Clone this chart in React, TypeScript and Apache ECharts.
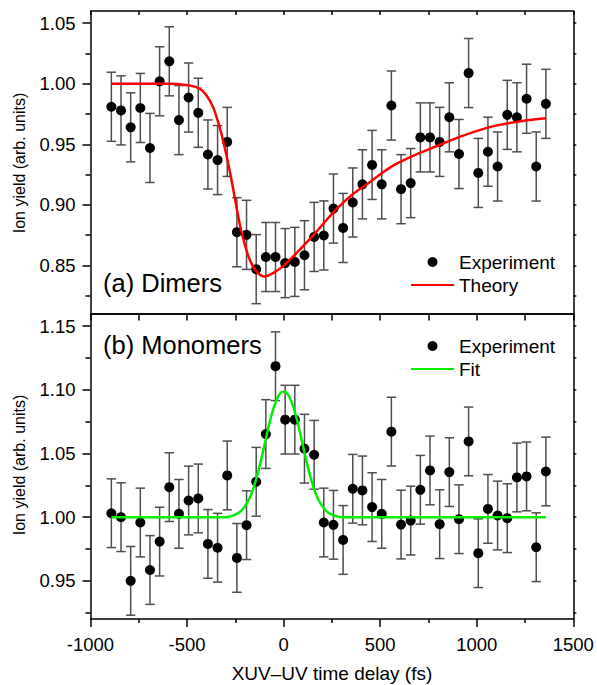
import React, { useEffect, useRef } from "react";
import * as echarts from "echarts";

// ---- data ----
const delays = [
  -892, -842, -792, -742, -692, -642, -592, -542, -492, -442, -392, -342, -292, -242, -192, -142,
  -92, -42, 8, 58, 108, 158, 208, 258, 308, 358, 408, 458, 508, 558, 608, 658, 708, 758, 808, 858,
  908, 958, 1008, 1058, 1108, 1158, 1208, 1258, 1308, 1358,
];

const dimerYield = [
  0.981, 0.978, 0.964, 0.98, 0.947, 1.002, 1.0185, 0.97, 0.9886, 0.976,
  0.9416, 0.937, 0.952, 0.8775, 0.8753, 0.847, 0.857, 0.857, 0.852, 0.853,
  0.8585, 0.8736, 0.8748, 0.897, 0.881, 0.902, 0.917, 0.933, 0.917, 0.982,
  0.913, 0.918, 0.9557, 0.9557, 0.952, 0.9723, 0.942, 1.0088, 0.9264, 0.9439,
  0.9317, 0.9743, 0.9723, 0.9876, 0.9317, 0.9834,
];
const dimerErr = 0.0285;

const monomerYield = [
  1.0031, 1.0, 0.95, 0.9958, 0.9585, 0.9808, 1.0236, 1.0026, 1.0131, 1.0147,
  0.979, 0.976, 1.0328, 0.968, 0.9937, 1.0278, 1.0653, 1.1186, 1.0766, 1.0766,
  1.0538, 1.049, 0.9958, 0.994, 0.9821, 1.0223, 1.021, 1.0079, 1.0026, 1.0672,
  0.9942, 0.9973, 1.0215, 1.0367, 0.9945, 1.0354, 0.9984, 1.0595, 0.9717, 1.0065,
  1.0013, 0.9992, 1.0312, 1.032, 0.9764, 1.0359,
];
const monomerErr = 0.027;

const theoryX = [
  -892, -589, -486, -434, -399, -365, -331, -305, -279, -253, -227, -201, -176, -141, -98, -55,
  -4, 65, 134, 203, 272, 358, 444, 513, 581, 670, 754, 926, 1099, 1271, 1358,
];
const theoryY = [
  1.0, 1.0, 0.9986, 0.9959, 0.9903, 0.9806, 0.964, 0.9474, 0.928, 0.906, 0.884, 0.8673, 0.855,
  0.8452, 0.841, 0.8438, 0.8493, 0.86, 0.8715, 0.884, 0.8963, 0.9088, 0.9185, 0.9267, 0.9336,
  0.9405, 0.946, 0.957, 0.9654, 0.97, 0.9715,
];

const fitX = [
  -892, -300, -250, -220, -190, -165, -140, -115, -90, -65, -40, -20, 0, 20, 40, 65, 90, 115,
  140, 165, 190, 220, 250, 300, 1358,
];
const fitY = [
  1.0, 1.0, 1.002, 1.005, 1.011, 1.019, 1.031, 1.046, 1.063, 1.079, 1.091, 1.097, 1.0985, 1.097,
  1.091, 1.079, 1.063, 1.046, 1.031, 1.019, 1.011, 1.005, 1.002, 1.0, 1.0,
];

const xTicks = [-1000, -500, 0, 500, 1000, 1500];
const xMinorTicks = [-750, -250, 250, 750, 1250];
const xAllTicks = [-1000, -750, -500, -250, 0, 250, 500, 750, 1000, 1250, 1500];
const yTicksTop = [0.85, 0.9, 0.95, 1.0, 1.05];
const yMinorTop = [0.825, 0.875, 0.925, 0.975, 1.025];
const yTicksBottom = [0.95, 1.0, 1.05, 1.1, 1.15];
const yMinorBottom = [0.925, 0.975, 1.025, 1.075, 1.125];

const xRange = [-1000, 1500];
const yRangeTop = [0.81, 1.06];
const yRangeBottom = [0.92, 1.16];

const FONT = "'Liberation Sans', Arial, sans-serif";

export default function App() {
  const ref = useRef<HTMLDivElement>(null);

  useEffect(() => {
    if (!ref.current) return;
    const chart = echarts.init(ref.current, undefined, { renderer: "svg" });

    const axisLine = { show: true, onZero: false, lineStyle: { color: "#000", width: 1.5 } };
    const noLine = { show: false, onZero: false };
    const tickStyle = { color: "#000", width: 1.5 };

    const errData = (vals: number[], err: number) =>
      delays.map((d, i) => [d, vals[i] - err, vals[i] + err]);

    const errRender = (params: any, api: any) => {
      const x = api.value(0);
      const a = api.coord([x, api.value(2)]);
      const b = api.coord([x, api.value(1)]);
      const w = 4.7;
      const style = { stroke: "#4d4d4d", lineWidth: 1.5 };
      return {
        type: "group",
        children: [
          { type: "line", shape: { x1: a[0], y1: a[1], x2: b[0], y2: b[1] }, style },
          { type: "line", shape: { x1: a[0] - w, y1: a[1], x2: a[0] + w, y2: a[1] }, style },
          { type: "line", shape: { x1: b[0] - w, y1: b[1], x2: b[0] + w, y2: b[1] }, style },
        ],
      };
    };

    const xBase = { type: "value", min: xRange[0], max: xRange[1], splitLine: { show: false } };

    const makeY = (grid: number, range: number[], major: number[], minor: number[]) => [
      {
        type: "value",
        gridIndex: grid,
        position: "left",
        min: range[0],
        max: range[1],
        splitLine: { show: false },
        axisLine,
        axisTick: { show: true, length: 8, lineStyle: tickStyle, customValues: major },
        axisLabel: {
          show: true,
          customValues: major,
          margin: 15,
          fontSize: 18.5,
          fontFamily: FONT,
          color: "#000",
          formatter: (v: number) => v.toFixed(2),
        },
      },
      {
        type: "value",
        gridIndex: grid,
        position: "left",
        min: range[0],
        max: range[1],
        splitLine: { show: false },
        axisLine: noLine,
        axisTick: { show: true, length: 5, lineStyle: tickStyle, customValues: minor },
        axisLabel: { show: false },
      },
      {
        type: "value",
        gridIndex: grid,
        position: "right",
        min: range[0],
        max: range[1],
        splitLine: { show: false },
        axisLine,
        axisTick: {
          show: true,
          length: 3,
          lineStyle: tickStyle,
          customValues: [...major, ...minor],
        },
        axisLabel: { show: false },
      },
    ];

    const legendBase = {
      orient: "vertical",
      left: 410,
      itemWidth: 43,
      itemHeight: 10,
      itemGap: 4,
      padding: 0,
      selectedMode: false,
      textStyle: { fontSize: 19, fontFamily: FONT, color: "#000" },
    };

    const option: any = {
      animation: false,
      backgroundColor: "#fff",
      grid: [
        { left: 90.5, right: 23.7, top: 11, height: 303 },
        { left: 90.5, right: 23.7, top: 313.5, height: 305.5 },
      ],
      xAxis: [
        { ...xBase, gridIndex: 0, position: "bottom", axisLine, axisTick: { show: false }, axisLabel: { show: false } },
        {
          ...xBase,
          gridIndex: 0,
          position: "top",
          axisLine,
          axisTick: { show: true, inside: true, length: 4, lineStyle: tickStyle, customValues: xAllTicks },
          axisLabel: { show: false },
        },
        {
          ...xBase,
          gridIndex: 1,
          position: "bottom",
          axisLine,
          axisTick: { show: true, length: 8, lineStyle: tickStyle, customValues: xTicks },
          axisLabel: {
            show: true,
            customValues: xTicks,
            margin: 16,
            fontSize: 18.5,
            fontFamily: FONT,
            color: "#000",
            formatter: (v: number) => String(v),
          },
        },
        {
          ...xBase,
          gridIndex: 1,
          position: "top",
          axisLine,
          axisTick: { show: true, inside: true, length: 7, lineStyle: tickStyle, customValues: xAllTicks },
          axisLabel: { show: false },
        },
        {
          ...xBase,
          gridIndex: 1,
          position: "bottom",
          axisLine: noLine,
          axisTick: { show: true, length: 4, lineStyle: tickStyle, customValues: xMinorTicks },
          axisLabel: { show: false },
        },
      ],
      yAxis: [
        ...makeY(0, yRangeTop, yTicksTop, yMinorTop),
        ...makeY(1, yRangeBottom, yTicksBottom, yMinorBottom),
      ],
      legend: [
        {
          ...legendBase,
          top: 252.5,
          data: [
            { name: "Experiment", icon: "circle", itemStyle: { color: "#000", opacity: 1 } },
            { name: "Theory", itemStyle: { opacity: 0 } },
          ],
        },
        {
          ...legendBase,
          top: 336.5,
          data: [
            { name: "Experiment", icon: "circle", itemStyle: { color: "#000", opacity: 1 } },
            { name: "Fit", itemStyle: { opacity: 0 } },
          ],
        },
      ],
      graphic: [
        {
          type: "text",
          x: 103,
          y: 283,
          style: { text: "(a) Dimers", fontSize: 25.5, fontFamily: FONT, fill: "#000", textAlign: "left", textVerticalAlign: "middle" },
        },
        {
          type: "text",
          x: 103,
          y: 345,
          style: { text: "(b) Monomers", fontSize: 25.5, fontFamily: FONT, fill: "#000", textAlign: "left", textVerticalAlign: "middle" },
        },
        {
          type: "text",
          x: 19.5,
          y: 163,
          rotation: Math.PI / 2,
          style: { text: "Ion yield (arb. units)", fontSize: 16, fontFamily: FONT, fill: "#000", textAlign: "center", textVerticalAlign: "middle" },
        },
        {
          type: "text",
          x: 19.5,
          y: 465,
          rotation: Math.PI / 2,
          style: { text: "Ion yield (arb. units)", fontSize: 16, fontFamily: FONT, fill: "#000", textAlign: "center", textVerticalAlign: "middle" },
        },
        {
          type: "text",
          x: 332,
          y: 673,
          style: { text: "XUV–UV time delay (fs)", fontSize: 19, fontFamily: FONT, fill: "#000", textAlign: "center", textVerticalAlign: "middle" },
        },
      ],
      series: [
        {
          type: "custom",
          xAxisIndex: 0,
          yAxisIndex: 0,
          silent: true,
          renderItem: errRender,
          encode: { x: 0, y: [1, 2] },
          data: errData(dimerYield, dimerErr),
          z: 1,
        },
        {
          name: "Experiment",
          type: "scatter",
          xAxisIndex: 0,
          yAxisIndex: 0,
          symbol: "circle",
          symbolSize: 10,
          itemStyle: { color: "#000", opacity: 1 },
          data: delays.map((d, i) => [d, dimerYield[i]]),
          z: 2,
        },
        {
          name: "Theory",
          type: "line",
          xAxisIndex: 0,
          yAxisIndex: 0,
          symbol: "none",
          smooth: 0.3,
          lineStyle: { color: "#ff0000", width: 2.5 },
          itemStyle: { color: "#ff0000", opacity: 0 },
          data: theoryX.map((x, i) => [x, theoryY[i]]),
          z: 3,
        },
        {
          type: "custom",
          xAxisIndex: 2,
          yAxisIndex: 3,
          silent: true,
          renderItem: errRender,
          encode: { x: 0, y: [1, 2] },
          data: errData(monomerYield, monomerErr),
          z: 1,
        },
        {
          name: "Experiment",
          type: "scatter",
          xAxisIndex: 2,
          yAxisIndex: 3,
          symbol: "circle",
          symbolSize: 10,
          itemStyle: { color: "#000", opacity: 1 },
          data: delays.map((d, i) => [d, monomerYield[i]]),
          z: 2,
        },
        {
          name: "Fit",
          type: "line",
          xAxisIndex: 2,
          yAxisIndex: 3,
          symbol: "none",
          smooth: 0.3,
          lineStyle: { color: "#00ee00", width: 2.5 },
          itemStyle: { color: "#00ee00", opacity: 0 },
          data: fitX.map((x, i) => [x, fitY[i]]),
          z: 3,
        },
      ],
    };

    chart.setOption(option);
    return () => chart.dispose();
  }, []);

  return (
    <div
      ref={ref}
      style={{ position: "absolute", left: 0, top: 0, width: 597, height: 685, background: "#fff" }}
    />
  );
}
